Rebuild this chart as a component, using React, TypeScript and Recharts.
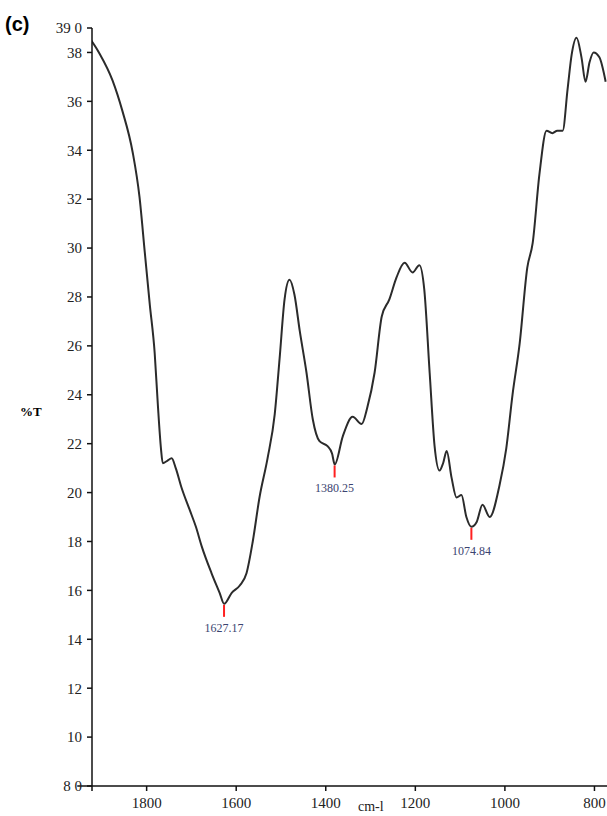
import React from 'react';
import { ComposedChart, Line, Scatter, XAxis, YAxis, ReferenceLine } from 'recharts';

const wavenumbers = [
  1924, 1905, 1876, 1854, 1831, 1816, 1804, 1793, 1782, 1775, 1768, 1764, 1754, 1744, 1735,
  1722, 1704, 1690, 1677, 1655, 1637, 1627, 1610, 1592, 1577, 1563, 1548, 1530, 1514, 1503,
  1492, 1481, 1470, 1458, 1443, 1429, 1414, 1396, 1386, 1380, 1362, 1340, 1320, 1307, 1291,
  1275, 1258, 1242, 1224, 1206, 1191, 1180, 1168, 1157, 1146, 1138, 1130, 1119, 1108, 1097,
  1086, 1075, 1063, 1050, 1034, 1012, 997, 983, 967, 950, 938, 923, 907, 894, 883,
  871, 860, 851, 840, 829, 820, 811, 802, 789, 775,
];
const transmittance = [
  38.5, 37.95, 36.85, 35.6, 33.9, 32.1, 29.8, 27.7, 25.7, 23.6, 21.8, 21.2, 21.3, 21.4, 21.0,
  20.2, 19.3, 18.6, 17.8, 16.7, 15.9, 15.45, 15.9, 16.2, 16.7, 18.0, 19.8, 21.4, 23.2, 25.5,
  27.9, 28.7, 28.1, 26.6, 24.9, 23.0, 22.1, 21.9, 21.6, 21.15, 22.3, 23.1, 22.8, 23.5, 24.9,
  27.2, 27.9, 28.8, 29.4, 29.0, 29.3, 28.3, 24.9, 21.9, 20.9, 21.2, 21.7, 20.6, 19.8, 19.9,
  19.0, 18.6, 18.8, 19.5, 19.0, 20.3, 21.8, 24.0, 26.1, 29.2, 30.2, 33.0, 34.8, 34.7, 34.8,
  34.8, 36.5, 37.9, 38.6, 37.8, 36.8, 37.6, 38.0, 37.8, 36.8,
];

const peakPositions = [1627.17, 1380.25, 1074.84];
const peakValues = [15.45, 21.15, 18.6];
const peakLabels = ['1627.17', '1380.25', '1074.84'];

const xTicks = [1922, 1800, 1600, 1400, 1200, 1000, 800];
const yTicks = [8, 10, 12, 14, 16, 18, 20, 22, 24, 26, 28, 30, 32, 34, 36, 38, 39];

const spectrum = wavenumbers.map((w, i) => ({ w, t: transmittance[i] }));
const peaks = peakPositions.map((w, i) => ({ w, t: peakValues[i], label: peakLabels[i] }));

const serif = '"Liberation Serif", "Times New Roman", serif';

const PeakMark = (props: any) => {
  const { cx, cy, payload } = props;
  return (
    <g>
      <line x1={cx} y1={cy + 1} x2={cx} y2={cy + 13} stroke="#ff2020" strokeWidth={2} />
      <text x={cx} y={cy + 28} textAnchor="middle" fontFamily={serif} fontSize={12} fill="#3b4470">
        {payload.label}
      </text>
    </g>
  );
};

const yFormat = (v: number) => (v === 39 ? '39 0' : v === 8 ? '8 0' : String(v));
const xFormat = (v: number) => (v === 1922 ? '' : String(v));

export default function App() {
  return (
    <div style={{ position: 'absolute', left: 0, top: 0, width: 607, height: 816, background: '#fff' }}>
      <ComposedChart
        width={607}
        height={816}
        data={spectrum}
        margin={{ top: 28, right: 0, bottom: 0, left: 0 }}
      >
        <XAxis
          dataKey="w"
          type="number"
          domain={[772, 1922]}
          reversed
          allowDataOverflow
          ticks={xTicks}
          tickFormatter={xFormat}
          height={30}
          tickSize={5}
          tickMargin={6}
          stroke="#111"
          strokeWidth={1.5}
          tick={{ fontFamily: serif, fontSize: 15, fill: '#222' }}
        />
        <YAxis
          dataKey="t"
          type="number"
          domain={[8, 39]}
          allowDataOverflow
          ticks={yTicks}
          tickFormatter={yFormat}
          width={92}
          tickSize={5}
          tickMargin={5}
          stroke="#111"
          strokeWidth={1.5}
          tick={{ fontFamily: serif, fontSize: 15, fill: '#222' }}
        />
        <ReferenceLine
          segment={[{ x: 1955, y: 8 }, { x: 1922, y: 8 }]}
          ifOverflow="visible"
          stroke="#111"
          strokeWidth={1.5}
        />
        <Line
          dataKey="t"
          type="monotone"
          stroke="#2b2b2b"
          strokeWidth={2}
          dot={false}
          isAnimationActive={false}
        />
        <Scatter data={peaks} dataKey="t" shape={PeakMark} isAnimationActive={false} />
      </ComposedChart>
      <div style={{ position: 'absolute', left: 5, top: 13, fontFamily: 'Arial, "Liberation Sans", sans-serif', fontWeight: 'bold', fontSize: 20 }}>
        (c)
      </div>
      <div style={{ position: 'absolute', left: 20, top: 404, fontFamily: serif, fontWeight: 'bold', fontSize: 13 }}>
        %T
      </div>
      <div style={{ position: 'absolute', left: 358, top: 799, fontFamily: serif, fontSize: 14, color: '#222' }}>
        cm-l
      </div>
    </div>
  );
}
